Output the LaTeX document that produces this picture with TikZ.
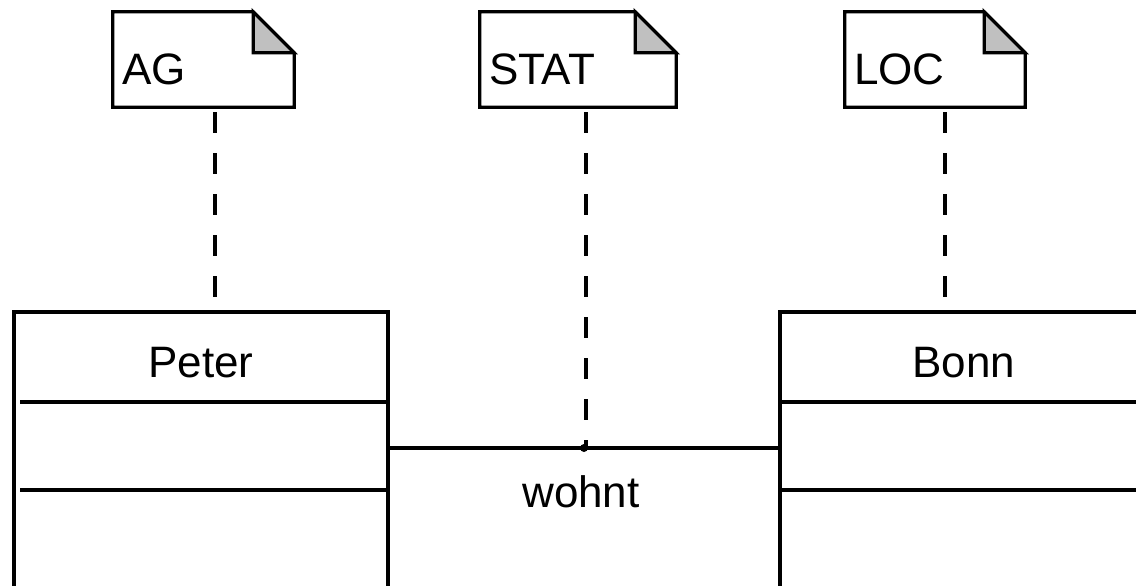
\documentclass[tikz,border=0pt]{standalone}
\usepackage{fontspec}
\setmainfont{Liberation Sans}
\usetikzlibrary{calc}
\definecolor{foldgray}{RGB}{192,192,192}
\tikzset{
  outline/.style={line width=3.2pt, draw=black},
  noteframe/.style={rectangle, draw=none, inner sep=0pt, minimum height=95pt},
  notetext/.style={anchor=base west, inner sep=0pt, font=\fontsize{44}{52}\selectfont},
  classframe/.style={rectangle, outline, inner sep=0pt, minimum height=310pt},
  classtext/.style={anchor=base, inner sep=0pt, font=\fontsize{44}{52}\selectfont},
  tagline/.style={line width=3.5pt, dash pattern=on 21pt off 20pt},
  assocline/.style={line width=3.2pt},
}
% dog-eared note: #1 node name, #2 fold size
\newcommand{\dogear}[2]{%
  \draw[outline, line join=miter]
    (#1.north west) -- ($(#1.north east)+(-#2,0)$) -- ($(#1.north east)+(0,#2)$)
    -- (#1.south east) -- (#1.south west) -- cycle;
  \draw[outline, fill=foldgray, line join=miter]
    ($(#1.north east)+(-#2,0)$) -- ($(#1.north east)+(-#2,#2)$) -- ($(#1.north east)+(0,#2)$) -- cycle;
}
\begin{document}
\begin{tikzpicture}[x=1pt, y=-1pt]
  \useasboundingbox (0,0) rectangle (1136,586);
  \fill[white] (0,0) rectangle (1136,586);

  % role notes
  \node[noteframe, minimum width=181pt] (ag)   at (203.5,59.5) {};
  \node[noteframe, minimum width=196pt] (stat) at (578,59.5) {};
  \node[noteframe, minimum width=180pt] (loc)  at (935,59.5) {};
  \dogear{ag}{41}
  \dogear{stat}{41}
  \dogear{loc}{41}
  \node[notetext] (agtext)   at ($(ag.south west)+(9,-23)$) {AG};
  \node[notetext] (stattext) at ($(stat.south west)+(9,-23)$) {STAT};
  \node[notetext] (loctext)  at ($(loc.south west)+(9,-23)$) {LOC};

  % classes (cut off by the page edge)
  \node[classframe, minimum width=374pt] (peter) at (201,467) {};
  \node[classframe, minimum width=368pt] (bonn)  at (964,467) {};
  \node[classtext] (petertext) at (201,377) {Peter};
  \node[classtext] (bonntext)  at (964,377) {Bonn};
  \draw[outline] (20,402) -- (peter.east |- 0,402);
  \draw[outline] (20,490) -- (peter.east |- 0,490);
  \draw[outline] (bonn.west |- 0,402) -- (bonn.east |- 0,402);
  \draw[outline] (bonn.west |- 0,490) -- (bonn.east |- 0,490);

  % association
  \coordinate (assoc) at (584,448);
  \draw[assocline] (peter.east |- assoc) -- (bonn.west |- assoc);
  \fill (assoc) circle (4pt);
  \node[classtext] (wohnt) at (581,507) {wohnt};

  % role attachments
  \coordinate (agfoot)   at ($(ag.south west)+(102,5)$);
  \coordinate (statfoot) at ($(stat.south west)+(106,5)$);
  \coordinate (locfoot)  at ($(loc.south west)+(100,5)$);
  \draw[tagline] (agfoot) -- (agfoot |- peter.north);
  \draw[tagline] (statfoot) -- (statfoot |- assoc);
  \draw[tagline] (locfoot) -- (locfoot |- bonn.north);
\end{tikzpicture}
\end{document}
